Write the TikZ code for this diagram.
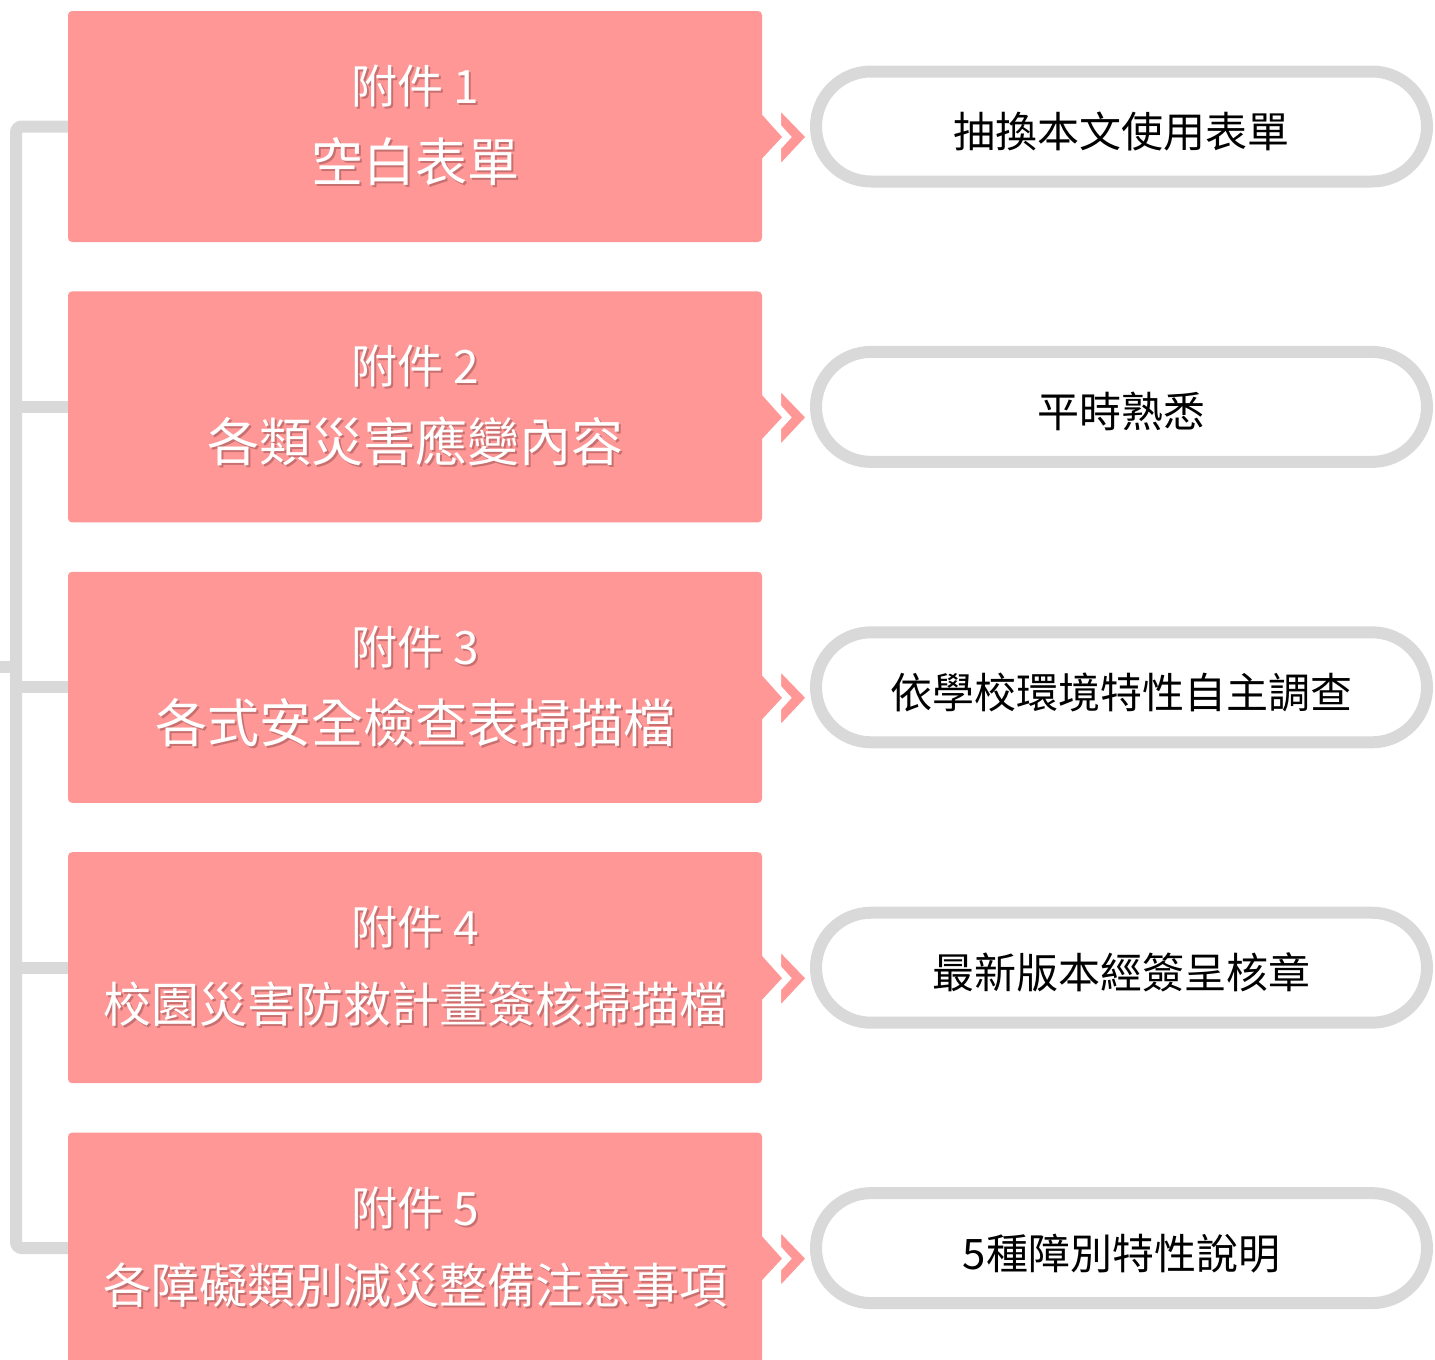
\documentclass[tikz,border=0pt]{standalone}
\usepackage{fontspec}
\setmainfont{Noto Sans CJK TC}
\usetikzlibrary{calc}
\definecolor{attpink}{RGB}{255,151,151}
\definecolor{linegray}{RGB}{217,217,217}
\definecolor{shadowc}{RGB}{200,112,112}
\newcommand{\shtext}[1]{\leavevmode\rlap{\kern2pt\raisebox{-2pt}{\textcolor{shadowc}{#1}}}#1}

\begin{document}
\begin{tikzpicture}[x=1pt, y=-1pt,
    attbox/.style={rectangle, rounded corners=4pt, fill=attpink, minimum width=694pt, minimum height=231pt, inner sep=0pt, text=white, align=center, font=\fontsize{52}{78}\selectfont},
    notebox/.style={rectangle, rounded corners=55pt, draw=linegray, line width=12pt, fill=white, minimum width=611pt, minimum height=110pt, inner sep=0pt, font=\fontsize{42}{50}\selectfont, text height=42pt, text depth=0pt},
    bracket/.style={draw=linegray, line width=12pt, rounded corners=6pt},
    arrowtip/.style={fill=attpink},
    chevron/.style={fill=attpink, draw=white, line width=4pt}]
      \useasboundingbox (0,0) rectangle (1435,1360);

      \node[attbox] (a1) at (415,126.5) {{\fontsize{46}{78}\selectfont\shtext{附件 1}}\\\shtext{空白表單}};
      \node[attbox] (a2) at (415,406.9) {{\fontsize{46}{78}\selectfont\shtext{附件 2}}\\\shtext{各類災害應變內容}};
      \node[attbox] (a3) at (415,687.3) {{\fontsize{46}{78}\selectfont\shtext{附件 3}}\\\shtext{各式安全檢查表掃描檔}};
      \node[attbox] (a4) at (415,967.7) {{\fontsize{46}{78}\selectfont\shtext{附件 4}}\\{\fontsize{48}{78}\selectfont\shtext{校園災害防救計畫簽核掃描檔}}};
      \node[attbox] (a5) at (415,1248.1) {{\fontsize{46}{78}\selectfont\shtext{附件 5}}\\{\fontsize{48}{78}\selectfont\shtext{各障礙類別減災整備注意事項}}};

      \coordinate (spine) at (16,0);
      \coordinate (tick) at (0,667);
      \draw[bracket] (a1.west) -- (a1.west -| spine) -- (a5.west -| spine) -- (a5.west);
      \draw[bracket] (a2.west -| spine) -- (a2.west);
      \draw[bracket] (a3.west -| spine) -- (a3.west);
      \draw[bracket] (a4.west -| spine) -- (a4.west);
      \draw[bracket] (tick) -- (tick -| spine);

      \node[notebox] (n1) at (1121.5,126.5) {抽換本文使用表單};
      \node[notebox] (n2) at (1121.5,406.9) {平時熟悉};
      \node[notebox] (n3) at (1121.5,687.3) {依學校環境特性自主調查};
      \node[notebox] (n4) at (1121.5,967.7) {最新版本經簽呈核章};
      \node[notebox] (n5) at (1121.5,1248.1) {5種障別特性說明};

      % double chevrons between the two columns
      \fill[arrowtip] ($(n1.west)+(-54,-18.5)$) -- ++(26,29) -- ++(-26,28) -- cycle;
      \filldraw[chevron] ($(n1.west)+(-31,-19.5)$) -- ++(29,30) -- ++(-29,31) -- ++(0,-20) -- ++(10,-11) -- ++(-10,-11) -- cycle;
      \fill[arrowtip] ($(n2.west)+(-54,-18.5)$) -- ++(26,29) -- ++(-26,28) -- cycle;
      \filldraw[chevron] ($(n2.west)+(-31,-19.5)$) -- ++(29,30) -- ++(-29,31) -- ++(0,-20) -- ++(10,-11) -- ++(-10,-11) -- cycle;
      \fill[arrowtip] ($(n3.west)+(-54,-18.5)$) -- ++(26,29) -- ++(-26,28) -- cycle;
      \filldraw[chevron] ($(n3.west)+(-31,-19.5)$) -- ++(29,30) -- ++(-29,31) -- ++(0,-20) -- ++(10,-11) -- ++(-10,-11) -- cycle;
      \fill[arrowtip] ($(n4.west)+(-54,-18.5)$) -- ++(26,29) -- ++(-26,28) -- cycle;
      \filldraw[chevron] ($(n4.west)+(-31,-19.5)$) -- ++(29,30) -- ++(-29,31) -- ++(0,-20) -- ++(10,-11) -- ++(-10,-11) -- cycle;
      \fill[arrowtip] ($(n5.west)+(-54,-18.5)$) -- ++(26,29) -- ++(-26,28) -- cycle;
      \filldraw[chevron] ($(n5.west)+(-31,-19.5)$) -- ++(29,30) -- ++(-29,31) -- ++(0,-20) -- ++(10,-11) -- ++(-10,-11) -- cycle;
    \end{tikzpicture}
\end{document}
